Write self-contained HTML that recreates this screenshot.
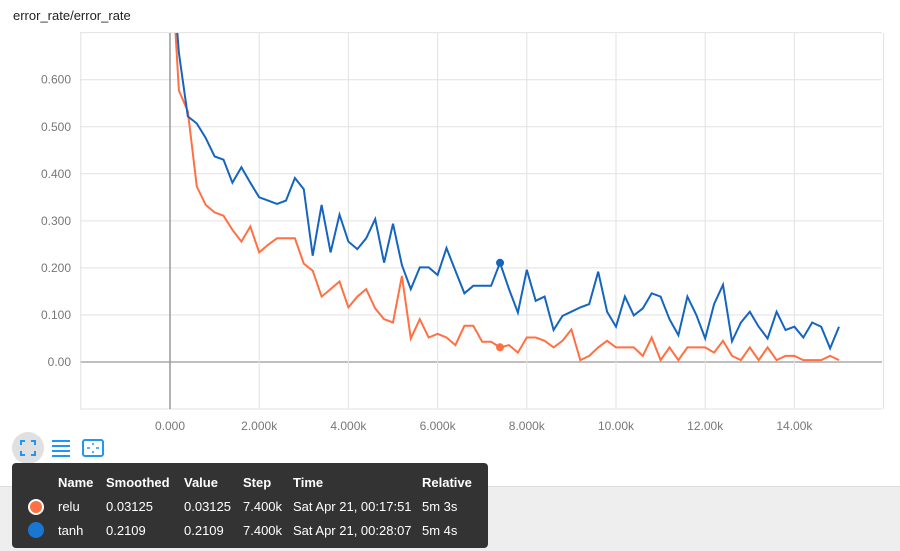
<!DOCTYPE html>
<html><head><meta charset="utf-8"><style>
html,body{margin:0;padding:0;width:900px;height:550px;overflow:hidden;background:#fff;font-family:"Liberation Sans",sans-serif;}
#bottom-band{position:absolute;left:0;top:486px;width:900px;height:64px;background:#eeeeee;border-top:1px solid #ddd;}
#tip{position:absolute;left:12px;top:463px;width:476px;height:85px;background:#333;border-radius:4px;color:#fff;font-size:13px;}
#tip span{position:absolute;white-space:nowrap;}
.h{font-weight:bold;}
</style></head><body>
<div id="bottom-band"></div>
<svg id="chart" width="900" height="480" style="position:absolute;left:0;top:0">
<text x="13" y="20" font-size="13" fill="#222">error_rate/error_rate</text>
<g id="grid"></g><g id="lines"></g>
<g>
<circle cx="28" cy="448" r="16" fill="#e0e0e0"/>
<path d="M21 445v-4h4M31 441h4v4M35 451v4h-4M25 455h-4v-4" stroke="#2196f3" stroke-width="2" fill="none"/>
</g>
<g stroke="#2196f3" stroke-width="2">
<line x1="52" y1="441" x2="70" y2="441"/><line x1="52" y1="446" x2="70" y2="446"/><line x1="52" y1="451" x2="70" y2="451"/><line x1="52" y1="456" x2="70" y2="456"/>
</g>
<g>
<rect x="83" y="440" width="20" height="16" rx="2" fill="none" stroke="#2196f3" stroke-width="2"/>
<path d="M90 448h-3M96 448h3M93 445v-2M93 451v2" stroke="#2196f3" stroke-width="1.5"/>
</g>
</svg>
<div id="tip">
<span class="h" style="left:46px;top:12px">Name</span><span class="h" style="left:94px;top:12px">Smoothed</span><span class="h" style="left:172px;top:12px">Value</span><span class="h" style="left:231px;top:12px">Step</span><span class="h" style="left:281px;top:12px">Time</span><span class="h" style="left:410px;top:12px">Relative</span>
<div style="position:absolute;left:16px;top:36px;width:12px;height:12px;border-radius:50%;background:#ff7043;border:2px solid #fff"></div>
<span style="left:46px;top:36px">relu</span><span style="left:94px;top:36px">0.03125</span><span style="left:172px;top:36px">0.03125</span><span style="left:231px;top:36px">7.400k</span><span style="left:281px;top:36px">Sat Apr 21, 00:17:51</span><span style="left:410px;top:36px">5m 3s</span>
<div style="position:absolute;left:16px;top:59px;width:16px;height:16px;border-radius:50%;background:#1976d2"></div>
<span style="left:46px;top:60px">tanh</span><span style="left:94px;top:60px">0.2109</span><span style="left:172px;top:60px">0.2109</span><span style="left:231px;top:60px">7.400k</span><span style="left:281px;top:60px">Sat Apr 21, 00:28:07</span><span style="left:410px;top:60px">5m 4s</span>
</div>
<script>
const yTicks=[0,0.1,0.2,0.3,0.4,0.5,0.6];
const yTickLabels=["0.00","0.100","0.200","0.300","0.400","0.500","0.600"];
const xTicks=[0,2000,4000,6000,8000,10000,12000,14000];
const xTickLabels=["0.000","2.000k","4.000k","6.000k","8.000k","10.00k","12.00k","14.00k"];
const tanhVals=[0.9,0.657,0.522,0.507,0.476,0.437,0.430,0.381,0.414,0.381,0.350,0.343,0.336,0.343,0.391,0.367,0.226,0.334,0.233,0.313,0.256,0.240,0.263,0.304,0.211,0.294,0.206,0.155,0.201,0.201,0.185,0.242,0.194,0.146,0.162,0.162,0.162,0.2109,0.155,0.105,0.196,0.130,0.139,0.068,0.098,0.107,0.116,0.123,0.192,0.107,0.075,0.139,0.099,0.114,0.146,0.139,0.091,0.057,0.139,0.100,0.050,0.123,0.164,0.044,0.084,0.107,0.075,0.050,0.107,0.068,0.075,0.052,0.084,0.075,0.029,0.075];
const reluVals=[0.9,0.577,0.533,0.373,0.334,0.318,0.311,0.281,0.256,0.288,0.233,0.249,0.263,0.263,0.263,0.209,0.194,0.139,0.155,0.171,0.116,0.139,0.155,0.114,0.091,0.084,0.183,0.050,0.091,0.052,0.060,0.052,0.036,0.077,0.077,0.043,0.043,0.03125,0.036,0.020,0.052,0.052,0.045,0.031,0.045,0.069,0.004,0.013,0.031,0.045,0.031,0.031,0.031,0.013,0.052,0.004,0.031,0.004,0.031,0.031,0.031,0.020,0.045,0.013,0.004,0.031,0.004,0.031,0.004,0.013,0.013,0.004,0.004,0.004,0.013,0.004];
const stepSize=200;
const markerStep=7400;
const NS="http://www.w3.org/2000/svg";
const X=s=>170+(s/1000)*44.6;
const Y=v=>362-v*470.5;
const grid=document.getElementById('grid'),lines=document.getElementById('lines');
function mk(tag,attrs,parent){const e=document.createElementNS(NS,tag);for(const k in attrs)e.setAttribute(k,attrs[k]);parent.appendChild(e);return e;}
for(let v=-0.1;v<=0.701;v+=0.1){const y=Y(v);const l=mk('line',{x1:80,x2:882,y1:y,y2:y,stroke:Math.abs(v)<1e-6?'#999':'#e2e2e2','stroke-width':Math.abs(v)<1e-6?1.2:1},grid);

}
for(let s=-2000;s<=16000;s+=2000){const x=X(s);const l=mk('line',{x1:x,x2:x,y1:33,y2:409,stroke:s===0?'#999':'#e2e2e2','stroke-width':s===0?1.5:1},grid);

}
yTicks.forEach((v,i)=>{const t=mk('text',{x:71,y:Y(v)+4,'text-anchor':'end','font-size':12,fill:'#777'},grid);t.textContent=yTickLabels[i];

});
xTicks.forEach((s,i)=>{const t=mk('text',{x:X(s),y:430,'text-anchor':'middle','font-size':12,fill:'#777'},grid);t.textContent=xTickLabels[i];

});
mk('clipPath',{id:'clip'},lines).appendChild(Object.assign(document.createElementNS(NS,'rect'),{}));
lines.querySelector('clipPath rect').setAttribute('x',80);lines.querySelector('clipPath rect').setAttribute('y',33);lines.querySelector('clipPath rect').setAttribute('width',802);lines.querySelector('clipPath rect').setAttribute('height',376);
function series(vals,color,name){const d=vals.map((v,i)=>(i?'L':'M')+X(i*stepSize).toFixed(1)+' '+Y(v).toFixed(1)).join('');
const p=mk('path',{d:d,stroke:color,'stroke-width':2,fill:'none','clip-path':'url(#clip)'},lines);


const k=markerStep/stepSize;const c=mk('circle',{cx:X(markerStep),cy:Y(vals[k]),r:4,fill:color},lines);

}
series(reluVals,'#ff7043','relu');
series(tanhVals,'#1565c0','tanh');
</script>
</body></html>
